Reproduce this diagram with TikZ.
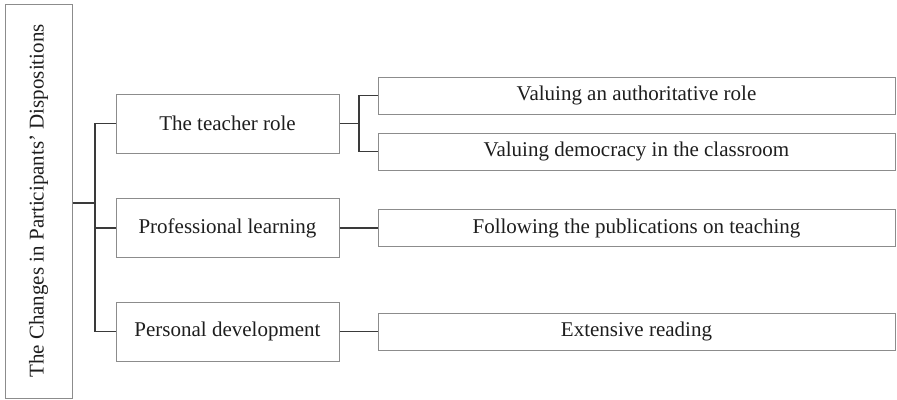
\documentclass[tikz,border=0pt]{standalone}
\usepackage{fontspec}
\setmainfont{Liberation Serif}
\definecolor{boxline}{HTML}{8C8C8C}
\definecolor{conline}{HTML}{3A3A3A}
\definecolor{txt}{HTML}{1E1E1E}
\begin{document}
\begin{tikzpicture}[x=1pt,y=-1pt,
  box/.style={draw=boxline, line width=1pt, fill=white, inner sep=0pt, text=txt,
    font=\fontsize{21}{25}\selectfont},
  midbox/.style={box, minimum width=223pt, minimum height=59pt},
  rbox/.style={box, minimum width=517pt, minimum height=37pt},
  con/.style={draw=conline, line width=1.4pt}]
\useasboundingbox (0,0) rectangle (897,399);
\node[box, minimum width=67pt, minimum height=394pt] (root) at (38.5,201) {};
\node[rotate=90, text=txt, font=\fontsize{21}{25}\selectfont] (roottext) at (38.5,201) {The Changes in Participants’ Dispositions};
\node[midbox] (tr) at (227.5,123.5) {The teacher role};
\node[midbox] (pl) at (227.5,228) {Professional learning};
\node[midbox] (pd) at (227.5,331.5) {Personal development};
\node[rbox] (r1) at (636.5,95.5) {Valuing an authoritative role};
\node[rbox] (r2) at (636.5,151.5) {Valuing democracy in the classroom};
\node[rbox] (r3) at (636.5,228) {Following the publications on teaching};
\node[rbox] (r4) at (636.5,331.5) {Extensive reading};
\coordinate (j1) at (95,203);
\coordinate (j2) at (359,125);
\draw[con] (root.east |- j1) -- (j1);
\draw[con] (tr.west) -| (j1 |- tr.west) |- (pd.west);
\draw[con] (pl.west) -- (pl.west -| j1);
\draw[con] (tr.east) -- (tr.east -| j2);
\draw[con] (r1.west) -| (j2 |- r1.west) |- (r2.west);
\draw[con] (pl.east) -- (pl.east -| r3.west);
\draw[con] (pd.east) -- (pd.east -| r4.west);
\end{tikzpicture}
\end{document}
